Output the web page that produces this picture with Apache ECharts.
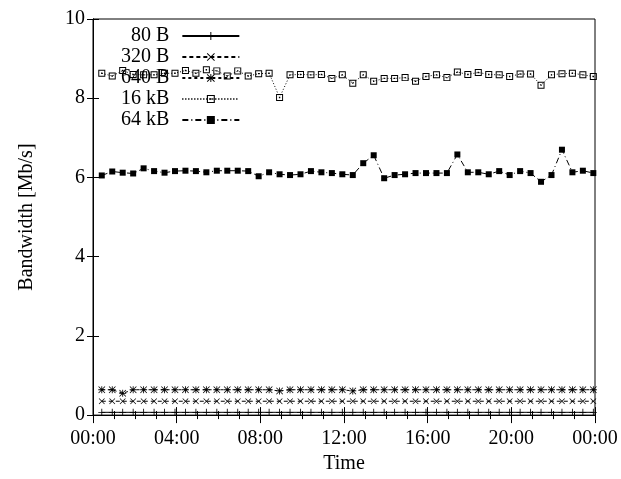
<!DOCTYPE html>
<html>
<head>
<meta charset="utf-8">
<script src="https://cdn.jsdelivr.net/npm/echarts@6/dist/echarts.min.js"></script>
<style>html,body{margin:0;padding:0;background:#fff}#c{width:621px;height:479px}</style>
</head>
<body>
<div id="c"></div>
<script>
// Sample times in hours (every 30 min, starting 00:25)
var times = [];
for (var i = 0; i < 48; i++) times.push(0.42 + 0.5 * i);

var seriesNames = ['80 B', '320 B', '640 B', '16 kB', '64 kB'];

var v80 = [0.07,0.07,0.07,0.07,0.07,0.07,0.07,0.07,0.07,0.07,0.07,0.07,0.07,0.07,0.07,0.07,0.07,0.07,0.07,0.07,0.07,0.07,0.07,0.07,0.07,0.07,0.07,0.07,0.07,0.07,0.07,0.07,0.07,0.07,0.07,0.07,0.07,0.07,0.07,0.07,0.07,0.07,0.07,0.07,0.07,0.07,0.07,0.07];
var v320 = [0.35,0.35,0.35,0.35,0.35,0.35,0.35,0.35,0.35,0.35,0.35,0.35,0.35,0.35,0.35,0.35,0.35,0.35,0.35,0.35,0.35,0.35,0.35,0.35,0.35,0.35,0.35,0.35,0.35,0.35,0.35,0.35,0.35,0.35,0.35,0.35,0.35,0.35,0.35,0.35,0.35,0.35,0.35,0.35,0.35,0.35,0.35,0.35];
var v640 = [0.64,0.64,0.55,0.64,0.64,0.64,0.64,0.64,0.64,0.64,0.64,0.64,0.64,0.64,0.64,0.64,0.64,0.61,0.64,0.64,0.64,0.64,0.64,0.64,0.61,0.64,0.64,0.64,0.64,0.64,0.64,0.64,0.64,0.64,0.64,0.64,0.64,0.64,0.64,0.64,0.64,0.64,0.64,0.64,0.64,0.64,0.64,0.64];
var v16k = [8.63,8.56,8.70,8.60,8.59,8.59,8.63,8.63,8.70,8.63, 8.72,8.69,8.56,8.69,8.56,8.62,8.63,8.02,8.59,8.60, 8.59,8.60,8.50,8.59,8.38,8.59,8.43,8.50,8.50,8.52, 8.43,8.55,8.59,8.52,8.66,8.60,8.65,8.60,8.59,8.55, 8.61,8.61,8.33,8.59,8.62,8.63,8.59,8.55];
var v64k = [6.05,6.15,6.12,6.10,6.23,6.16,6.12,6.16,6.17,6.16, 6.13,6.17,6.17,6.17,6.16,6.03,6.13,6.08,6.06,6.08, 6.16,6.13,6.11,6.08,6.06,6.36,6.56,5.98,6.06,6.08, 6.11,6.11,6.11,6.11,6.58,6.13,6.13,6.08,6.16,6.06, 6.16,6.11,5.89,6.06,6.70,6.13,6.17,6.11];

function pairs(vals) { return vals.map(function (v, i) { return [times[i], v]; }); }

var FONT = 'Liberation Serif';
var SYM_PLUS = 'path://M4.4,0H5.6V10H4.4Z M0,4.4H10V5.6H0Z';
var SYM_CROSS = 'path://M0.8,0L10,9.2L9.2,10L0,0.8Z M9.2,0L10,0.8L0.8,10L0,9.2Z';
var SYM_STAR = 'path://M4.4,0H5.6V10H4.4Z M0,4.4H10V5.6H0Z M0.8,0L10,9.2L9.2,10L0,0.8Z M9.2,0L10,0.8L0.8,10L0,9.2Z';
var SYM_SQ = 'path://M0,0H10V10H0Z M1.4,1.4V8.6H8.6V1.4Z M4,4H6V6H4Z';

function mk(name, vals, sym, size, dash) {
  return {
    name: name, type: 'line', data: pairs(vals),
    symbol: sym, symbolSize: size, showAllSymbol: true,
    lineStyle: { color: '#000', width: 1, type: dash },
    itemStyle: { color: '#000', borderWidth: 0 },
    emphasis: { disabled: true }, animation: false
  };
}

var chart = echarts.init(document.getElementById('c'), null, { renderer: 'canvas' });
var axisLineStyle = { show: true, lineStyle: { color: '#000', width: 1 } };
chart.setOption({
  backgroundColor: '#fff',
  animation: false,
  textStyle: { fontFamily: FONT },
  grid: { left: 93, right: 26, top: 19, bottom: 60, show: true, borderColor: '#000', borderWidth: 1 },
  legend: {
    orient: 'vertical', align: 'right', left: 121, top: 26, padding: 0, itemGap: 1,
    itemWidth: 57, itemHeight: 10, selectedMode: false,
    textStyle: { fontFamily: FONT, fontSize: 20, color: '#000', padding: [0, 8, 0, 0] },
    data: seriesNames
  },
  xAxis: [{
    type: 'value', min: 0, max: 24, interval: 4, position: 'bottom',
    name: 'Time', nameLocation: 'middle', nameGap: 38,
    nameTextStyle: { fontFamily: FONT, fontSize: 20, color: '#000' },
    axisLine: axisLineStyle,
    axisTick: { inside: true, length: 8, lineStyle: { color: '#000' } },
    minorTick: { show: true, splitNumber: 4, length: 4, lineStyle: { color: '#000' } },
    splitLine: { show: false },
    axisLabel: { fontFamily: FONT, fontSize: 20, color: '#000', margin: 14,
      formatter: function (v) { var h = v % 24; return (h < 10 ? '0' : '') + h + ':00'; } }
  }, {
    type: 'value', min: 0, max: 24, interval: 4, position: 'top',
    axisLine: axisLineStyle,
    axisTick: { inside: true, length: 8, lineStyle: { color: '#000' } },
    minorTick: { show: true, splitNumber: 4, length: 4, lineStyle: { color: '#000' } },
    splitLine: { show: false }, axisLabel: { show: false }
  }],
  yAxis: [{
    type: 'value', min: 0, max: 10, interval: 2, position: 'left',
    name: 'Bandwidth [Mb/s]', nameLocation: 'middle', nameGap: 56, nameRotate: 90,
    nameTextStyle: { fontFamily: FONT, fontSize: 20, color: '#000' },
    axisLine: axisLineStyle,
    axisTick: { inside: true, length: 6, lineStyle: { color: '#000' } },
    splitLine: { show: false },
    axisLabel: { fontFamily: FONT, fontSize: 20, color: '#000', margin: 8 }
  }, {
    type: 'value', min: 0, max: 10, interval: 2, position: 'right',
    axisLine: axisLineStyle,
    axisTick: { inside: true, length: 6, lineStyle: { color: '#000' } },
    splitLine: { show: false }, axisLabel: { show: false }
  }],
  series: [
    mk(seriesNames[0], v80, SYM_PLUS, 7, 'solid'),
    mk(seriesNames[1], v320, SYM_CROSS, 6, [4, 3]),
    mk(seriesNames[2], v640, SYM_STAR, 7, [3, 3]),
    mk(seriesNames[3], v16k, SYM_SQ, 7, [1, 2]),
    mk(seriesNames[4], v64k, 'rect', 6, [6, 3, 1, 3])
  ]
});
</script>
</body>
</html>
